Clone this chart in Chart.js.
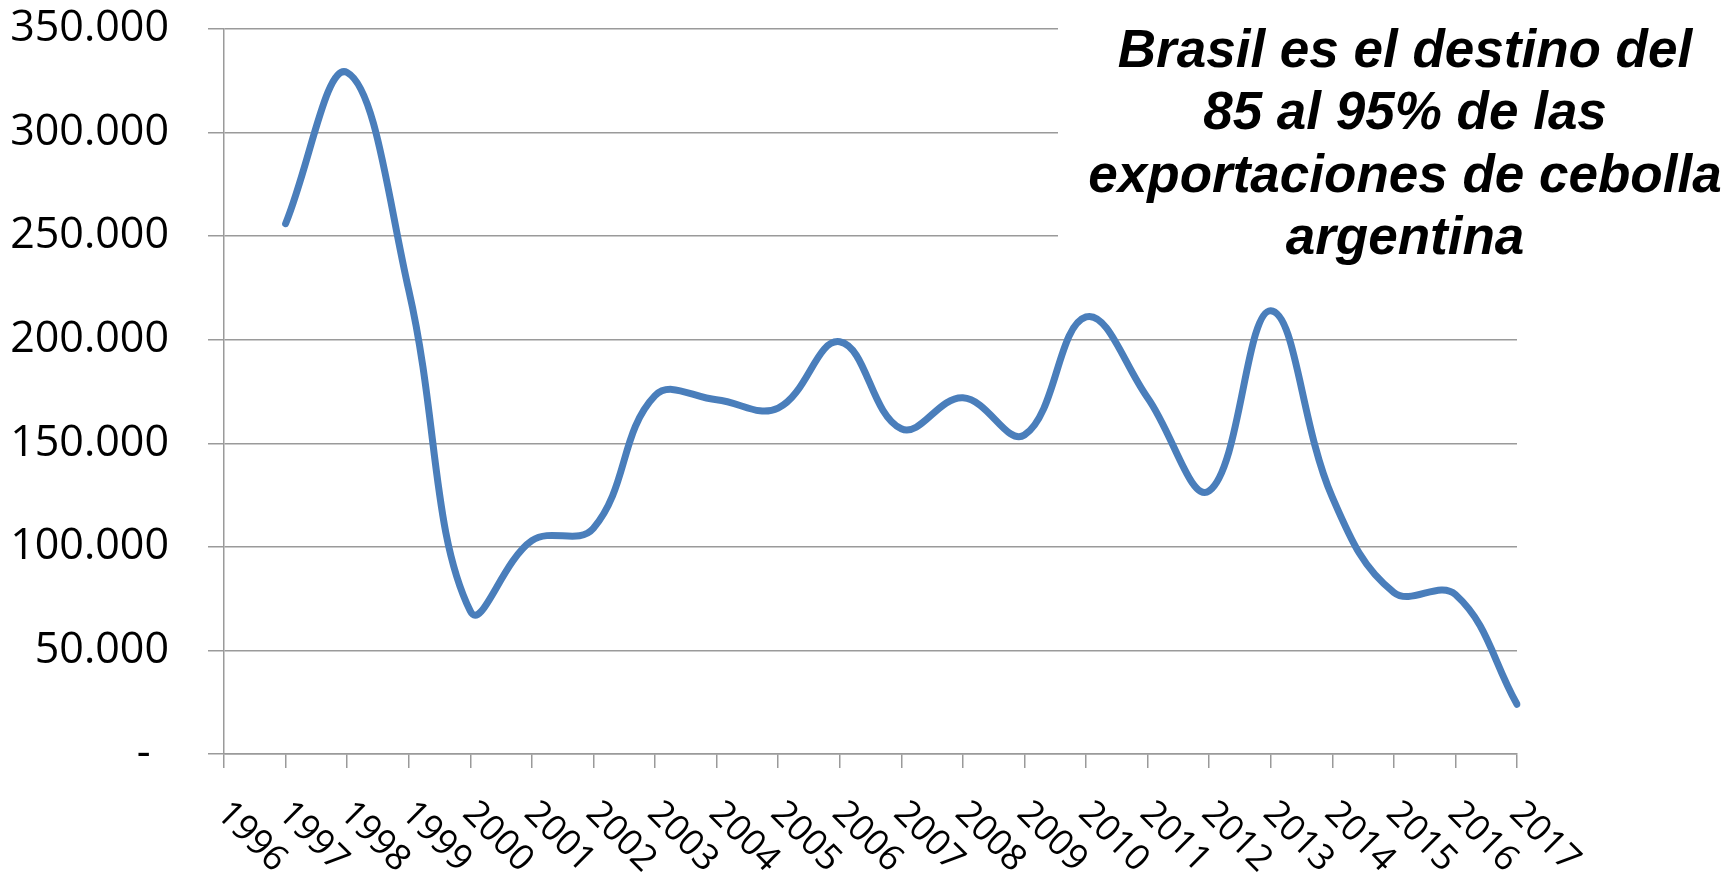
<!DOCTYPE html>
<html>
<head>
<meta charset="utf-8">
<script src="https://cdn.jsdelivr.net/npm/chart.js@4/dist/chart.umd.min.js"></script>
<style>
  html, body { margin: 0; padding: 0; background: #fff; }
  canvas { display: block; }
</style>
</head>
<body>
<canvas id="chart" width="1732" height="872"></canvas>
<script>
// categories and values (toneladas)
const years = ["1996", "1997", "1998", "1999", "2000", "2001", "2002", "2003", "2004", "2005", "2006",
  "2007", "2008", "2009", "2010", "2011", "2012", "2013", "2014", "2015", "2016", "2017"];
const exports = [null, 256000, 329000, 224000, 69000, 103000, 109000, 173000, 171000, 167000, 199000,
  157000, 172000, 154000, 211000, 172000, 127000, 214000, 124000, 78000, 77000, 24000];
const yMax = 350000;
const yStep = 50000;
const noteLines = ["Brasil es el destino del", "85 al 95% de las", "exportaciones de cebolla", "argentina"];

const gridColor = "#9a9a9a";

const fmt = (v) => v === 0 ? "- \u2009" : String(v).replace(/\B(?=(\d{3})+(?!\d))/g, ".");

// x labels go down-right from each tick, which the built-in rotation can't do
const xLabels = {
  id: "xLabels",
  afterDraw(chart) {
    const ctx = chart.ctx;
    const xs = chart.scales.x;
    ctx.save();
    ctx.font = '36px "Open Sans"';
    ctx.fillStyle = "#000";
    ctx.textAlign = "left";
    ctx.textBaseline = "alphabetic";
    years.forEach((lab, i) => {
      const px = xs.getPixelForTick(i);
      ctx.save();
      ctx.translate(px - 9, xs.top + 61);
      ctx.rotate(Math.PI / 4);
      ctx.fillText(lab, 0, 0);
      ctx.restore();
    });
    ctx.restore();
  }
};

// text box with white background over the top-right gridlines
const note = {
  id: "note",
  beforeDatasetsDraw(chart) {
    const ctx = chart.ctx;
    ctx.save();
    ctx.fillStyle = "#fff";
    ctx.fillRect(1058, 0, chart.width - 1058, 280);
    ctx.restore();
  },
  afterDraw(chart) {
    const ctx = chart.ctx;
    ctx.save();
    ctx.font = 'italic bold 53px "Liberation Sans"';
    ctx.fillStyle = "#000";
    ctx.textAlign = "center";
    ctx.textBaseline = "middle";
    noteLines.forEach((line, i) => {
      ctx.fillText(line, 1405, 52 + i * 62.5);
    });
    ctx.restore();
  }
};

new Chart(document.getElementById("chart"), {
  type: "line",
  data: {
    labels: years,
    datasets: [{
      data: exports,
      borderColor: "#4a7ebb",
      borderWidth: 7,
      borderCapStyle: "round",
      borderJoinStyle: "round",
      tension: 0.4,
      pointRadius: 0,
      fill: false
    }]
  },
  options: {
    responsive: false,
    animation: false,
    devicePixelRatio: 1,
    layout: { padding: { top: 29, right: 215, bottom: 0, left: 0 } },
    plugins: {
      legend: { display: false },
      tooltip: { enabled: false }
    },
    scales: {
      x: {
        offset: false,
        afterFit: (s) => { s.height = 118; },
        grid: {
          drawOnChartArea: false,
          drawTicks: true,
          tickLength: 14,
          color: gridColor,
          lineWidth: 1.5
        },
        border: { color: gridColor, width: 1.5 },
        ticks: { display: false, autoSkip: false }
      },
      y: {
        min: 0,
        max: yMax,
        afterFit: (s) => {
          s.width = 224;
          s.paddingTop = 0;
          s.paddingBottom = 0;
        },
        grid: {
          color: gridColor,
          lineWidth: 1.5,
          drawTicks: true,
          tickLength: 16
        },
        border: { color: gridColor, width: 1.5 },
        ticks: {
          stepSize: yStep,
          padding: 39,
          color: "#000",
          font: { family: "Open Sans", size: 43 },
          callback: (v) => fmt(v)
        }
      }
    }
  },
  plugins: [xLabels, note]
});
</script>
</body>
</html>
